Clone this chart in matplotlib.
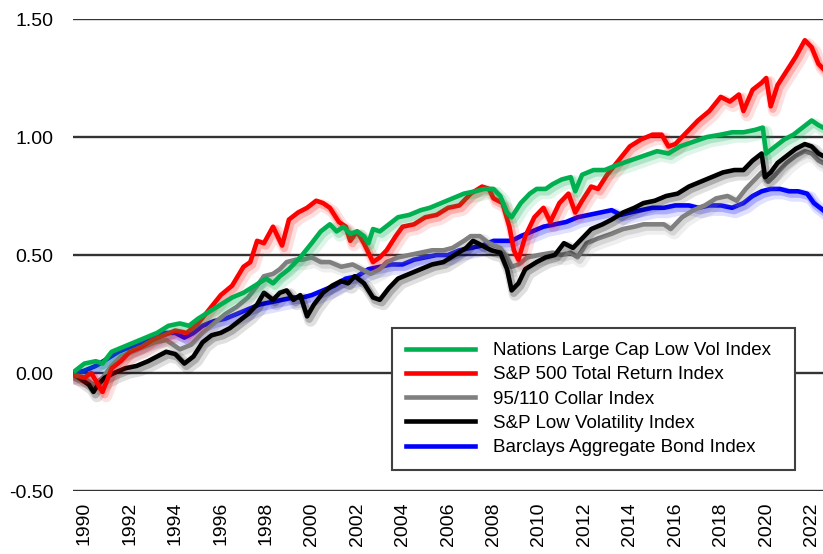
import matplotlib
matplotlib.use("Agg")
import matplotlib.pyplot as plt
import matplotlib.patheffects as pe

plt.rcParams['font.family'] = ['Liberation Sans', 'DejaVu Sans']

# values (fractional year, cumulative value)
sp500_years = [1989.6, 1990.0, 1990.3, 1990.8, 1991.2, 1991.6, 1992.0, 1992.5, 1993.0, 1993.5,
               1994.0, 1994.5, 1995.0, 1995.5, 1996.0, 1996.5, 1997.0, 1997.3, 1997.6, 1997.9,
               1998.3, 1998.7, 1999.0, 1999.4, 1999.8, 2000.2, 2000.5, 2000.8, 2001.2, 2001.5,
               2001.7, 2002.0, 2002.3, 2002.7, 2003.0, 2003.3, 2003.7, 2004.0, 2004.5, 2005.0,
               2005.5, 2006.0, 2006.5, 2007.0, 2007.5, 2007.8, 2008.0, 2008.4, 2008.7, 2008.9,
               2009.1, 2009.4, 2009.8, 2010.2, 2010.5, 2010.9, 2011.3, 2011.6, 2011.9, 2012.3,
               2012.6, 2013.0, 2013.5, 2014.0, 2014.5, 2015.0, 2015.4, 2015.7, 2016.0, 2016.5,
               2017.0, 2017.5, 2018.0, 2018.4, 2018.8, 2019.0, 2019.4, 2019.8, 2020.0, 2020.2,
               2020.5, 2020.9, 2021.3, 2021.7, 2022.0, 2022.3, 2022.5]
sp500 = [-0.01, -0.02, 0.00, -0.08, 0.02, 0.05, 0.09, 0.11, 0.14, 0.16,
         0.18, 0.17, 0.21, 0.27, 0.33, 0.37, 0.45, 0.47, 0.56, 0.55,
         0.62, 0.54, 0.65, 0.68, 0.70, 0.73, 0.72, 0.70, 0.64, 0.62,
         0.56, 0.60, 0.55, 0.47, 0.49, 0.52, 0.58, 0.62, 0.63, 0.66,
         0.67, 0.70, 0.71, 0.76, 0.79, 0.78, 0.74, 0.72, 0.62, 0.52,
         0.48, 0.58, 0.66, 0.70, 0.64, 0.72, 0.76, 0.68, 0.73, 0.79,
         0.78, 0.84, 0.90, 0.96, 0.99, 1.01, 1.01, 0.96, 0.97, 1.02,
         1.07, 1.11, 1.17, 1.15, 1.18, 1.11, 1.20, 1.23, 1.25, 1.13,
         1.22, 1.28, 1.34, 1.41, 1.38, 1.31, 1.29]

nations_years = [1989.6, 1990.0, 1990.5, 1990.8, 1991.2, 1991.7, 1992.2, 1992.7, 1993.2, 1993.7,
                 1994.2, 1994.6, 1995.0, 1995.5, 1996.0, 1996.5, 1997.0, 1997.5, 1998.0, 1998.3,
                 1998.6, 1999.0, 1999.5, 2000.0, 2000.4, 2000.8, 2001.1, 2001.4, 2001.7, 2002.0,
                 2002.3, 2002.5, 2002.7, 2003.0, 2003.4, 2003.8, 2004.3, 2004.8, 2005.2, 2005.7,
                 2006.2, 2006.7, 2007.2, 2007.6, 2008.0, 2008.3, 2008.6, 2008.8, 2009.2, 2009.6,
                 2009.9, 2010.3, 2010.6, 2011.0, 2011.4, 2011.6, 2011.9, 2012.4, 2012.9, 2013.4,
                 2014.0, 2014.6, 2015.2, 2015.7, 2016.2, 2016.8, 2017.4, 2018.0, 2018.5, 2019.0,
                 2019.5, 2019.85, 2020.0, 2020.4, 2020.8, 2021.2, 2021.6, 2022.0, 2022.3, 2022.5]
nations = [0.01, 0.04, 0.05, 0.04, 0.09, 0.11, 0.13, 0.15, 0.17, 0.20,
           0.21, 0.20, 0.23, 0.26, 0.29, 0.32, 0.34, 0.37, 0.40, 0.38,
           0.41, 0.44, 0.49, 0.55, 0.60, 0.63, 0.60, 0.62, 0.59, 0.60,
           0.58, 0.55, 0.61, 0.60, 0.63, 0.66, 0.67, 0.69, 0.70, 0.72,
           0.74, 0.76, 0.77, 0.78, 0.78, 0.75, 0.68, 0.66, 0.72, 0.76,
           0.78, 0.78, 0.80, 0.82, 0.83, 0.77, 0.84, 0.86, 0.86, 0.88,
           0.90, 0.92, 0.94, 0.93, 0.96, 0.98, 1.00, 1.01, 1.02, 1.02,
           1.03, 1.04, 0.93, 0.96, 0.99, 1.01, 1.04, 1.07, 1.05, 1.04]

bond_years = [1989.6, 1990.0, 1990.5, 1991.0, 1991.5, 1992.0, 1992.5, 1993.0, 1993.5, 1994.0,
              1994.4, 1994.8, 1995.2, 1995.7, 1996.2, 1996.7, 1997.2, 1997.7, 1998.2, 1998.7,
              1999.2, 1999.6, 2000.0, 2000.5, 2001.0, 2001.5, 2002.0, 2002.5, 2003.0, 2003.5,
              2004.0, 2004.5, 2005.0, 2005.5, 2006.0, 2006.5, 2007.0, 2007.5, 2008.0, 2008.5,
              2008.8, 2009.2, 2009.7, 2010.2, 2010.7, 2011.2, 2011.7, 2012.2, 2012.7, 2013.2,
              2013.6, 2014.0, 2014.5, 2015.0, 2015.5, 2016.0, 2016.6, 2017.0, 2017.5, 2018.0,
              2018.5, 2019.0, 2019.4, 2019.8, 2020.2, 2020.6, 2021.0, 2021.4, 2021.8, 2022.1,
              2022.5]
bond = [0.00, 0.01, 0.03, 0.06, 0.09, 0.11, 0.13, 0.15, 0.17, 0.17,
        0.15, 0.17, 0.20, 0.22, 0.23, 0.25, 0.27, 0.29, 0.30, 0.31,
        0.32, 0.32, 0.33, 0.35, 0.37, 0.40, 0.41, 0.44, 0.45, 0.46,
        0.46, 0.48, 0.49, 0.50, 0.50, 0.52, 0.53, 0.54, 0.56, 0.56,
        0.56, 0.58, 0.60, 0.62, 0.63, 0.64, 0.66, 0.67, 0.68, 0.69,
        0.67, 0.68, 0.69, 0.70, 0.70, 0.71, 0.71, 0.70, 0.71, 0.71,
        0.70, 0.72, 0.75, 0.77, 0.78, 0.78, 0.77, 0.77, 0.76, 0.72,
        0.69]

lowvol_years = [1989.6, 1989.9, 1990.2, 1990.4, 1990.6, 1990.9, 1991.3, 1991.8, 1992.3, 1992.8,
                1993.2, 1993.6, 1994.0, 1994.4, 1994.8, 1995.2, 1995.6, 1996.0, 1996.4, 1996.8,
                1997.2, 1997.6, 1997.9, 1998.3, 1998.6, 1998.9, 1999.2, 1999.5, 1999.8, 2000.1,
                2000.5, 2000.9, 2001.3, 2001.6, 2001.9, 2002.3, 2002.7, 2003.0, 2003.4, 2003.8,
                2004.3, 2004.8, 2005.3, 2005.8, 2006.3, 2006.8, 2007.1, 2007.5, 2007.9, 2008.3,
                2008.6, 2008.8, 2009.1, 2009.4, 2009.9, 2010.3, 2010.7, 2011.1, 2011.5, 2011.9,
                2012.3, 2012.8, 2013.2, 2013.7, 2014.2, 2014.6, 2015.1, 2015.6, 2016.1, 2016.6,
                2017.1, 2017.6, 2018.1, 2018.6, 2019.0, 2019.4, 2019.8, 2019.95, 2020.2, 2020.5,
                2020.9, 2021.3, 2021.7, 2022.0, 2022.3, 2022.5]
lowvol = [-0.01, -0.03, -0.05, -0.08, -0.05, -0.02, 0.00, 0.02, 0.03, 0.05,
          0.07, 0.09, 0.08, 0.04, 0.07, 0.13, 0.16, 0.17, 0.19, 0.22,
          0.25, 0.29, 0.34, 0.31, 0.34, 0.35, 0.31, 0.33, 0.24, 0.29,
          0.34, 0.37, 0.39, 0.38, 0.41, 0.38, 0.32, 0.31, 0.36, 0.40,
          0.42, 0.44, 0.46, 0.47, 0.50, 0.53, 0.56, 0.54, 0.52, 0.51,
          0.44, 0.35, 0.38, 0.44, 0.47, 0.49, 0.50, 0.55, 0.53, 0.57,
          0.61, 0.63, 0.65, 0.68, 0.70, 0.72, 0.73, 0.75, 0.76, 0.79,
          0.81, 0.83, 0.85, 0.86, 0.86, 0.90, 0.93, 0.83, 0.85, 0.89,
          0.92, 0.95, 0.97, 0.96, 0.93, 0.92]

collar_years = [1989.6, 1990.0, 1990.4, 1990.8, 1991.2, 1991.6, 1992.1, 1992.6, 1993.1, 1993.6,
                1994.2, 1994.7, 1995.2, 1995.7, 1996.2, 1996.7, 1997.2, 1997.6, 1997.9, 1998.3,
                1998.6, 1998.9, 1999.3, 1999.6, 2000.0, 2000.4, 2000.8, 2001.3, 2001.8, 2002.2,
                2002.6, 2003.0, 2003.3, 2003.8, 2004.3, 2004.8, 2005.3, 2005.8, 2006.2, 2006.7,
                2007.0, 2007.4, 2007.8, 2008.3, 2008.6, 2008.8, 2009.1, 2009.5, 2010.0, 2010.6,
                2011.0, 2011.4, 2011.7, 2012.1, 2012.6, 2013.2, 2013.7, 2014.2, 2014.6, 2015.1,
                2015.5, 2015.8, 2016.3, 2016.8, 2017.3, 2017.8, 2018.3, 2018.7, 2019.1, 2019.5,
                2019.8, 2020.1, 2020.5, 2020.9, 2021.3, 2021.7, 2022.0, 2022.3, 2022.5]
collar = [-0.01, -0.02, -0.05, -0.02, 0.03, 0.07, 0.09, 0.11, 0.13, 0.14,
          0.10, 0.12, 0.17, 0.21, 0.25, 0.28, 0.32, 0.37, 0.41, 0.42,
          0.44, 0.47, 0.48, 0.48, 0.49, 0.47, 0.47, 0.45, 0.46, 0.44,
          0.42, 0.44, 0.47, 0.49, 0.50, 0.51, 0.52, 0.52, 0.53, 0.56,
          0.58, 0.58, 0.55, 0.53, 0.49, 0.45, 0.46, 0.49, 0.50, 0.51,
          0.50, 0.51, 0.49, 0.55, 0.57, 0.59, 0.61, 0.62, 0.63, 0.63,
          0.63, 0.61, 0.66, 0.69, 0.71, 0.74, 0.75, 0.73, 0.78, 0.82,
          0.85, 0.81, 0.85, 0.89, 0.92, 0.94, 0.93, 0.90, 0.89]

tick_years = list(range(1990, 2023, 2))
y_ticks = [-0.5, 0.0, 0.5, 1.0, 1.5]

fig = plt.figure(figsize=(8.23, 5.54), dpi=100)
ax = fig.add_axes([73 / 823, 63 / 554, 750 / 823, 472 / 554])


def shadowed(c):
    # soft drop shadow like the original export
    return [pe.SimpleLineShadow(offset=(2.5, -3), shadow_color=c, alpha=0.12, linewidth=9),
            pe.SimpleLineShadow(offset=(1.5, -2), shadow_color=c, alpha=0.22, linewidth=5.5),
            pe.Normal()]


series = [
    (bond_years, bond, "#0000FF", "Barclays Aggregate Bond Index"),
    (collar_years, collar, "#808080", "95/110 Collar Index"),
    (lowvol_years, lowvol, "#000000", "S&P Low Volatility Index"),
    (sp500_years, sp500, "#FF0000", "S&P 500 Total Return Index"),
    (nations_years, nations, "#00B050", "Nations Large Cap Low Vol Index"),
]
handles = {}
for xs, ys, c, name in series:
    ln, = ax.plot(xs, ys, color=c, lw=3.3, label=name, solid_joinstyle="round",
                  path_effects=shadowed(c), zorder=3)
    handles[name] = ln

ax.set_xlim(1989.5, 2022.5)
ax.set_ylim(-0.5, 1.5)
ax.set_yticks(y_ticks)
ax.set_yticklabels(["%.2f" % v for v in y_ticks])
ax.set_xticks(tick_years)
ax.set_xticklabels([str(y) for y in tick_years], rotation=90)
ax.tick_params(axis="both", length=0, labelsize=14)
ax.tick_params(axis="y", pad=14)
ax.tick_params(axis="x", pad=8)
for s in ax.spines.values():
    s.set_visible(False)
ax.yaxis.grid(True, color="#333333", lw=1.7, zorder=1)
ax.set_axisbelow(True)

order = ["Nations Large Cap Low Vol Index", "S&P 500 Total Return Index", "95/110 Collar Index",
         "S&P Low Volatility Index", "Barclays Aggregate Bond Index"]
leg_lines = [plt.Line2D([], [], color=handles[n].get_color(), lw=3.3) for n in order]
leg = ax.legend(leg_lines, order, loc="upper left",
                bbox_to_anchor=(392 / 823, 1 - 468 / 554, 403 / 823, 140 / 554),
                bbox_transform=fig.transFigure, mode="expand", fontsize=13.5, frameon=True,
                fancybox=False, handlelength=3.7, handletextpad=0.95, labelspacing=0.38,
                borderpad=0.75, borderaxespad=0)
leg.get_frame().set_edgecolor("#404040")
leg.get_frame().set_linewidth(1.5)
leg.get_frame().set_alpha(1)
leg.set_zorder(5)

fig.savefig("out.png", dpi=100)
